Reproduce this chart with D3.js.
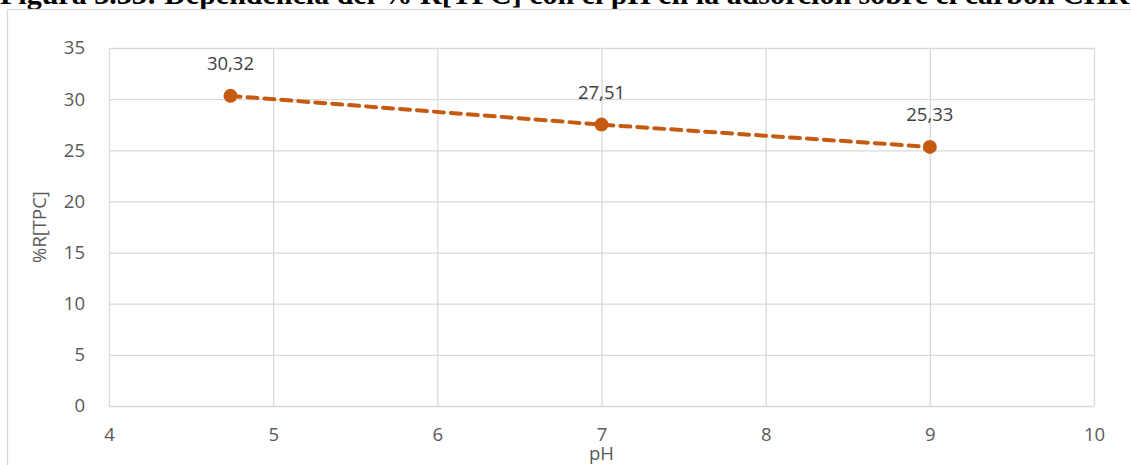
<!DOCTYPE html>
<html>
<head>
<meta charset="utf-8">
<script src="https://cdn.jsdelivr.net/npm/d3@7"></script>
<style>
  html, body { margin: 0; padding: 0; background: #fff; overflow: hidden; }
  svg { display: block; }
</style>
</head>
<body>
<script>
const titleText = "Figura 3.33: Dependencia del % R[TPC] con el pH en la adsorción sobre el carbón CHRC";
const phValues = [4.74, 7, 9];
const removalValues = [30.32, 27.51, 25.33];
const dataLabels = ["30,32", "27,51", "25,33"];
const xTicks = [4, 5, 6, 7, 8, 9, 10];
const yTicks = [0, 5, 10, 15, 20, 25, 30, 35];
const xTitle = "pH";
const yTitle = "%R[TPC]";

const W = 1131, H = 465;
const svg = d3.select("body").append("svg").attr("width", W).attr("height", H);

// Title (cut off at top like reference)
svg.append("text")
  .attr("x", 0).attr("y", 4)
  .attr("font-family", "'Liberation Serif', 'Times New Roman', serif")
  .attr("font-weight", "bold")
  .attr("font-size", 30)
  .attr("fill", "#000")
  .text(titleText);

// Chart frame
svg.append("rect")
  .attr("x", 7.5).attr("y", 9.5).attr("width", 1200).attr("height", 600)
  .attr("fill", "#fff").attr("stroke", "#d9d9d9").attr("stroke-width", 1.3);

const x = d3.scaleLinear().domain([4, 10]).range([109, 1094]);
const y = d3.scaleLinear().domain([0, 35]).range([406, 48]);

const font = "'Open Sans', 'Noto Sans', sans-serif";
const grid = "#d9d9d9";

// Horizontal gridlines
svg.append("g")
  .attr("transform", `translate(${x(4)},0)`)
  .call(d3.axisLeft(y).tickValues(yTicks).tickSize(-(x(10) - x(4))).tickFormat(""))
  .call(g => g.select(".domain").remove())
  .call(g => g.selectAll("line").attr("stroke", grid).attr("stroke-width", 1.3));

// Vertical gridlines
svg.append("g")
  .attr("transform", `translate(0,${y(0)})`)
  .call(d3.axisBottom(x).tickValues(xTicks).tickSize(-(y(0) - y(35))).tickFormat(""))
  .call(g => g.select(".domain").remove())
  .call(g => g.selectAll("line").attr("stroke", grid).attr("stroke-width", 1.3));

// Y tick labels
svg.append("g")
  .attr("transform", `translate(${x(4)},0)`)
  .call(d3.axisLeft(y).tickValues(yTicks).tickSize(0).tickPadding(24).tickFormat(d3.format("d")))
  .call(g => g.select(".domain").remove())
  .call(g => g.selectAll("text").attr("font-family", font).attr("font-size", 18.5).attr("fill", "#595959"));

// X tick labels
svg.append("g")
  .attr("transform", `translate(0,${y(0)})`)
  .call(d3.axisBottom(x).tickValues(xTicks).tickSize(0).tickPadding(22).tickFormat(d3.format("d")))
  .call(g => g.select(".domain").remove())
  .call(g => g.selectAll("text").attr("font-family", font).attr("font-size", 18.5).attr("fill", "#595959"));

// Axis titles
svg.append("text")
  .attr("x", x(7)).attr("y", 460)
  .attr("text-anchor", "middle")
  .attr("font-family", font).attr("font-size", 18.5).attr("fill", "#595959")
  .text(xTitle);

svg.append("text")
  .attr("transform", `translate(46,${y(17.5)}) rotate(-90)`)
  .attr("text-anchor", "middle")
  .attr("font-family", font).attr("font-size", 18.5).attr("fill", "#595959")
  .text(yTitle);

const pts = phValues.map((p, i) => ({ p, r: removalValues[i], lab: dataLabels[i] }));
const color = "#c55a11";

svg.append("path")
  .datum(pts)
  .attr("d", d3.line().x(d => x(d.p)).y(d => y(d.r)))
  .attr("fill", "none")
  .attr("stroke", color)
  .attr("stroke-width", 4)
  .attr("stroke-dasharray", "10,7")
  .attr("stroke-linecap", "round");

svg.selectAll("circle.pt").data(pts).enter().append("circle")
  .attr("cx", d => x(d.p)).attr("cy", d => y(d.r)).attr("r", 7)
  .attr("fill", color);

svg.selectAll("text.lab").data(pts).enter().append("text")
  .attr("x", d => x(d.p)).attr("y", d => y(d.r) - 26)
  .attr("text-anchor", "middle")
  .attr("font-family", font).attr("font-size", 18.5).attr("fill", "#404040")
  .text(d => d.lab);
</script>
</body>
</html>
